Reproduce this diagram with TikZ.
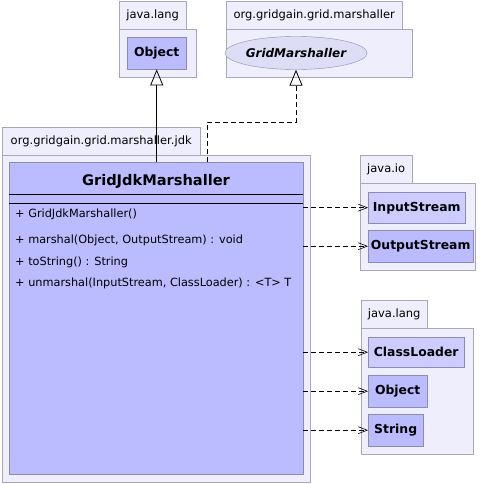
\documentclass[tikz,border=0pt]{standalone}
\usepackage{fontspec}
\setmainfont{DejaVu Sans}
\usetikzlibrary{arrows.meta,positioning,calc,shapes.geometric}
\definecolor{pkgfill}{HTML}{EEEEFC}
\definecolor{pkgline}{HTML}{A8A8B8}
\definecolor{clsfill}{HTML}{BBBBFF}
\definecolor{clslight}{HTML}{CCCCFF}
\definecolor{clsline}{HTML}{8C8CAE}
\definecolor{ifcfill}{HTML}{DDDDF6}

\tikzset{
  pkgtab/.style={draw=pkgline, fill=pkgfill, anchor=north west, inner sep=0pt,
    font=\fontsize{11.5}{13}\selectfont},
  pkgbody/.style={draw=pkgline, fill=pkgfill, anchor=north west, inner sep=0pt},
  classbox/.style={draw=clsline, fill=clsfill, anchor=north west, inner sep=0pt,
    font=\bfseries\fontsize{12.4}{14}\selectfont},
  member/.style={anchor=west, inner sep=0pt, font=\fontsize{11.3}{13}\selectfont},
  gen/.style={-{Triangle[open,length=16pt,width=13pt]}, line width=0.8pt},
  realize/.style={gen, dash pattern=on 5pt off 3pt},
  uses/.style={-{Straight Barb[length=9pt,width=7pt]}, dash pattern=on 5pt off 3pt, line width=0.6pt}
}

\begin{document}
\begin{tikzpicture}[x=1pt,y=-1pt]
  \useasboundingbox (0,0) rectangle (487,484);

  % java.lang (top)
  \node[pkgtab, minimum width=67, minimum height=28] (langAtab) at (119,1) {java.lang};
  \node[pkgbody, minimum width=77, minimum height=48] (langAbody) at (119,29) {};
  \node[classbox, minimum width=59, minimum height=32] (objA) at (127,37) {Object};

  % org.gridgain.grid.marshaller
  \node[pkgtab, minimum width=176, minimum height=28] (marshtab) at (226,1) {org.gridgain.grid.marshaller};
  \node[pkgbody, minimum width=186, minimum height=48] (marshbody) at (226,29) {};
  \node[ellipse, draw=clsline, fill=ifcfill, minimum width=126, minimum height=33, inner sep=0pt,
    font=\bfseries\itshape\fontsize{12}{14}\selectfont] (gm) at (296,53) {GridMarshaller};

  % org.gridgain.grid.marshaller.jdk
  \node[pkgtab, minimum width=198, minimum height=28] (jdktab) at (2,127) {org.gridgain.grid.marshaller.jdk};
  \node[pkgbody, minimum width=308, minimum height=327] (jdkbody) at (2,155) {};
  \node[classbox, minimum width=294, minimum height=312] (jdkcls) at (9,162) {};
  \node[font=\bfseries\fontsize{14.6}{17}\selectfont, inner sep=0pt] (jdktitle) at (156,181) {GridJdkMarshaller};
  \draw ([yshift=-32]jdkcls.north west) -- ([yshift=-32]jdkcls.north east);
  \draw ([yshift=-41]jdkcls.north west) -- ([yshift=-41]jdkcls.north east);
  \node[member] (m1) at (15,214) {+ GridJdkMarshaller()};
  \node[member] (m2) at (15,240) {+ marshal(Object, OutputStream) : void};
  \node[member] (m3) at (15,262) {+ toString() : String};
  \node[member] (m4) at (15,283) {+ unmarshal(InputStream, ClassLoader) : <T> T};

  % java.io
  \node[pkgtab, minimum width=52, minimum height=28] (iotab) at (360,155) {java.io};
  \node[pkgbody, minimum width=115, minimum height=87] (iobody) at (360,183) {};
  \node[classbox, fill=clslight, minimum width=97, minimum height=31] (inS) at (368,192) {InputStream};
  \node[classbox, minimum width=105, minimum height=32] (outS) at (368,230) {OutputStream};

  % java.lang (bottom)
  \node[pkgtab, minimum width=66, minimum height=28] (langBtab) at (361,300) {java.lang};
  \node[pkgbody, minimum width=112, minimum height=126] (langBbody) at (361,328) {};
  \node[classbox, fill=clslight, minimum width=96, minimum height=30] (cl) at (368,337) {ClassLoader};
  \node[classbox, minimum width=59, minimum height=32] (objB) at (368,375) {Object};
  \node[classbox, minimum width=55, minimum height=32] (str) at (368,414) {String};

  % inheritance
  \draw[gen] (objA.south |- jdkcls.north) -- (objA.south);
  \coordinate (rstart) at (207,162);
  \draw[realize] (rstart) -- ++(0,-40) -| (gm.south);

  % dependencies
  \foreach \dst in {inS,outS,cl,objB,str}
    \draw[uses] (\dst.west -| jdkcls.east) -- (\dst.west);
\end{tikzpicture}
\end{document}
